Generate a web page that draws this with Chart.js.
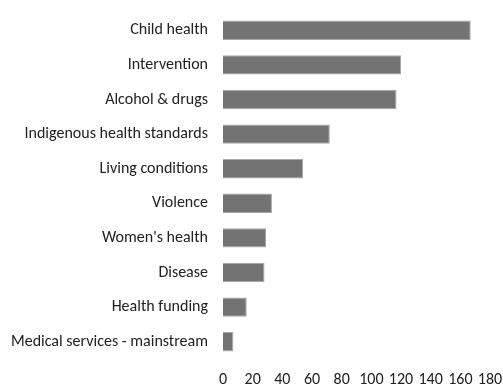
<!DOCTYPE html>
<html>
<head>
<meta charset="utf-8">
<script src="https://cdn.jsdelivr.net/npm/chart.js@4"></script>
<style>
  html, body { margin: 0; padding: 0; background: #fff; }
  #wrap { width: 503px; height: 387px; }
</style>
</head>
<body>
<div id="wrap"><canvas id="topicChart"></canvas></div>
<script>
// topics and number of mentions
const topics = [
  'Child health',
  'Intervention',
  'Alcohol & drugs',
  'Indigenous health standards',
  'Living conditions',
  'Violence',
  "Women's health",
  'Disease',
  'Health funding',
  'Medical services - mainstream'
];
const mentions = [167, 120, 117, 72, 54, 33, 29, 28, 16, 7];
const xTicks = [0, 20, 40, 60, 80, 100, 120, 140, 160, 180];

const labelFont = { family: 'Carlito, Lato, sans-serif', size: 16 };

new Chart(document.getElementById('topicChart').getContext('2d'), {
  type: 'bar',
  data: {
    labels: topics,
    datasets: [{
      data: mentions,
      backgroundColor: '#737373',
      borderColor: '#a8a8a8',
      borderWidth: 1,
      barPercentage: 0.56,
      categoryPercentage: 1
    }]
  },
  options: {
    indexAxis: 'y',
    responsive: true,
    maintainAspectRatio: false,
    animation: false,
    layout: { padding: { top: 13, right: 13, left: 0, bottom: 0 } },
    plugins: {
      legend: { display: false },
      tooltip: { enabled: false }
    },
    scales: {
      x: {
        min: 0,
        max: 180,
        afterBuildTicks: axis => { axis.ticks = xTicks.map(v => ({ value: v })); },
        afterFit: axis => {
          axis.height = 28;
          axis.paddingLeft = 0;
          axis.paddingRight = 0;
        },
        grid: { display: false, drawTicks: false },
        border: { display: false },
        ticks: { color: '#222', font: labelFont, padding: 11, maxRotation: 0 }
      },
      y: {
        afterFit: axis => {
          axis.width = 223;
          axis.paddingTop = 0;
          axis.paddingBottom = 0;
        },
        grid: { display: false, drawTicks: false },
        border: { display: false },
        ticks: { color: '#222', font: labelFont, padding: 15 }
      }
    }
  }
});
</script>
</body>
</html>
